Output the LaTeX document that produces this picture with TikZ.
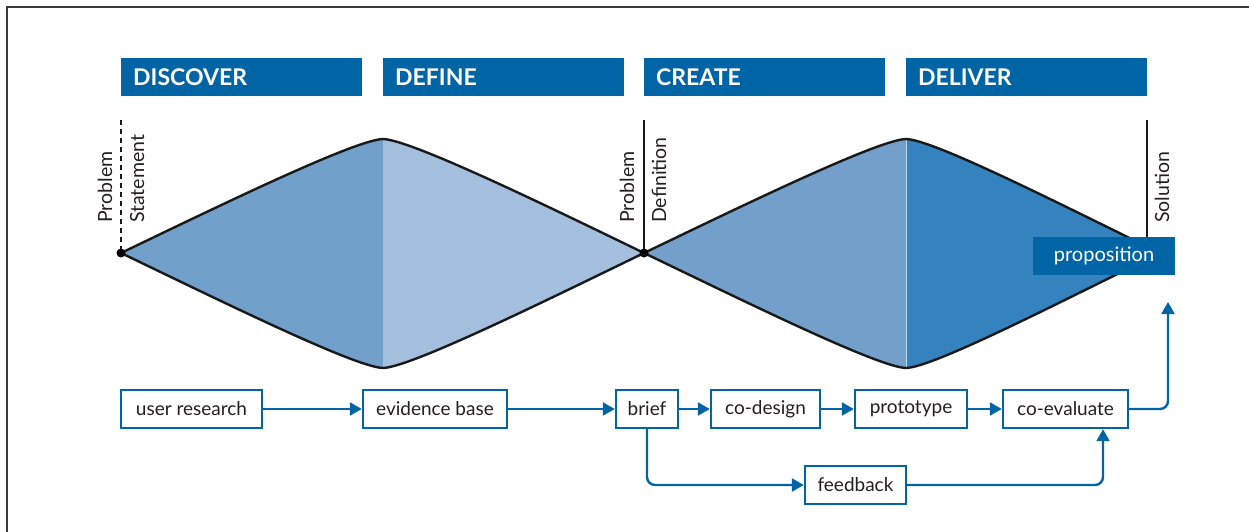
\documentclass[tikz,border=0pt]{standalone}
\usepackage{fontspec}
\setmainfont{Lato}
\usetikzlibrary{arrows.meta}
\definecolor{hblue}{HTML}{0064A5}
\definecolor{dA}{HTML}{71A0CB}
\definecolor{dB}{HTML}{A4BFDE}
\definecolor{dC}{HTML}{72A0CA}
\definecolor{dD}{HTML}{3483BE}
\definecolor{txt}{HTML}{231F20}
\definecolor{frame}{HTML}{3A3A3A}
\tikzset{
  headbar/.style={fill=hblue, text=white, anchor=north west, minimum height=38pt,
    text width=217pt, inner xsep=12pt, inner ysep=0pt, align=left,
    font=\fontsize{23}{26}\selectfont\bfseries},
  stepbox/.style={draw=hblue, line width=2.4pt, fill=white, text=txt, minimum height=38pt,
    inner sep=0pt, font=\fontsize{19}{22}\selectfont},
  propbox/.style={fill=hblue, text=white, minimum height=38pt, minimum width=142pt,
    inner sep=0pt, font=\fontsize{20}{22}\selectfont},
  vlabel/.style={rotate=90, anchor=base west, inner sep=0pt, text=txt,
    font=\fontsize{19.5}{22}\selectfont},
  flow/.style={draw=hblue, line width=2.4pt, rounded corners=8pt,
    -{Triangle[length=12pt,width=13pt]}},
  outline/.style={draw=black!90, line width=2.4pt, line join=round},
  marker/.style={black!90, line width=2pt}
}
\begin{document}
\begin{tikzpicture}[x=1pt,y=-1pt]
\useasboundingbox (0,0) rectangle (1249,532);
% frame
\draw[frame, line width=2pt] (7,532) -- (7,7) -- (1249,7);
% header bars
\node[headbar] (discover) at (121,58) {DISCOVER};
\node[headbar] (define) at (383,58) {DEFINE};
\node[headbar] (create) at (644,58) {CREATE};
\node[headbar] (deliver) at (906,58) {DELIVER};
% coordinates of the diamonds
\coordinate (a0) at (121,253);
\coordinate (a1) at (383,139);
\coordinate (a2) at (383,368);
\coordinate (a3) at (644,253);
\coordinate (b1) at (906,139);
\coordinate (b2) at (906,368);
\coordinate (b3) at (1160,253);
% first diamond fills
\fill[dA] (a0) .. controls (225,203) and (355,140) .. (a1) -- (a2)
   .. controls (355,367) and (225,303) .. (a0) -- cycle;
\fill[dB] (a1) .. controls (411,140) and (541,203) .. (a3)
   .. controls (541,303) and (411,367) .. (a2) -- cycle;
% second diamond fills
\fill[dC] (a3) .. controls (748,203) and (878,140) .. (b1) -- (b2)
   .. controls (878,367) and (748,303) .. (a3) -- cycle;
\fill[dD] (b1) .. controls (934,140) and (1058,203) .. (b3)
   .. controls (1058,303) and (934,367) .. (b2) -- cycle;
\draw[white!60!dC, line width=0.8pt] (b1) -- (b2);
% outlines
\draw[outline] (a0) .. controls (225,203) and (355,140) .. (a1)
   .. controls (411,140) and (541,203) .. (a3)
   .. controls (748,203) and (878,140) .. (b1)
   .. controls (934,140) and (1058,203) .. (b3);
\draw[outline] (a0) .. controls (225,303) and (355,367) .. (a2)
   .. controls (411,367) and (541,303) .. (a3)
   .. controls (748,303) and (878,367) .. (b2)
   .. controls (934,367) and (1058,303) .. (b3);
% marker lines
\coordinate (s0) at (121,120);
\coordinate (d0) at (644,120);
\coordinate (e0) at (1147,120);
\coordinate (e1) at (1147,240);
\draw[marker, dash pattern=on 5pt off 4pt] (s0) -- (a0);
\draw[marker] (d0) -- (a3);
\draw[marker] (e0) -- (e1);
\fill[black] (a0) circle (4.5pt);
\fill[black] (a3) circle (4.5pt);
% vertical labels
\node[vlabel] (ps1) at (112,223) {Problem};
\node[vlabel] (ps2) at (144,223) {Statement};
\node[vlabel] (pd1) at (634,223) {Problem};
\node[vlabel] (pd2) at (666,223) {Definition};
\node[vlabel] (sol) at (1169,223) {Solution};
% proposition
\node[propbox] (prop) at (1104,256) {proposition};
% process boxes
\node[stepbox, minimum width=141pt] (ur) at (191.5,409) {user research};
\node[stepbox, minimum width=144pt] (eb) at (435,409) {evidence base};
\node[stepbox, minimum width=62pt] (br) at (647,409) {brief};
\node[stepbox, minimum width=109pt] (cd) at (765.5,409) {co-design};
\node[stepbox, minimum width=112pt] (pt) at (911,409) {prototype};
\node[stepbox, minimum width=125pt] (ce) at (1065.5,409) {co-evaluate};
\node[stepbox, minimum width=101pt] (fb) at (855.5,485) {feedback};
\coordinate (up) at (1168,302);
% connectors
\draw[flow] (ur) -- (eb);
\draw[flow] (eb) -- (br);
\draw[flow] (br) -- (cd);
\draw[flow] (cd) -- (pt);
\draw[flow] (pt) -- (ce);
\draw[flow] (ce.east) -| (up);
\draw[flow] (br.south) |- (fb.west);
\draw[flow] (fb.east) -| ([xshift=37.5pt]ce.south);
\end{tikzpicture}
\end{document}
